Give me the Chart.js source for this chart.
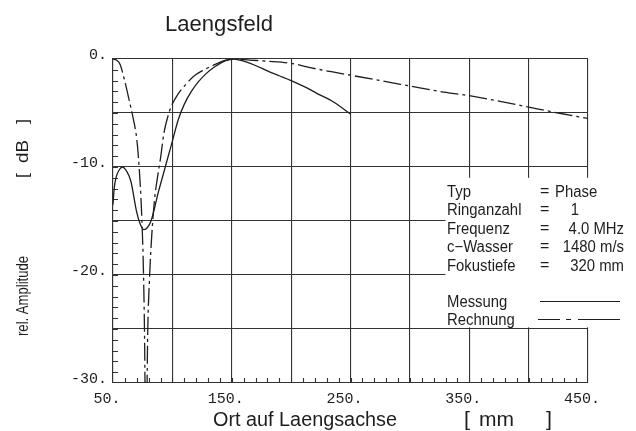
<!DOCTYPE html>
<html>
<head>
<meta charset="utf-8">
<title>Laengsfeld</title>
<script src="https://cdn.jsdelivr.net/npm/chart.js@4.4.1/dist/chart.umd.min.js"></script>
<style>
  html, body { margin: 0; padding: 0; background: #fff; }
  #wrap { width: 636px; height: 431px; }
</style>
</head>
<body>
<div id="wrap"><canvas id="feldChart" width="636" height="431"></canvas></div>
<script>
// Messung: Ort auf Laengsachse [mm] / rel. Amplitude [dB]
const ortMessung = [50, 51, 52.5, 55, 58, 61, 65, 70, 73, 76, 79, 82, 85, 88, 91, 94, 97, 100,
  105, 110, 116, 122, 128, 136, 145, 152, 160, 170, 180, 190, 200, 212, 222, 236, 250];
const ampMessung = [-13.5, -12.0, -11.0, -10.3, -10.0, -10.3, -11.3, -14.2, -15.3, -15.8, -15.6, -15.0, -13.8, -12.4, -11.2, -10.0, -8.8, -7.6,
  -5.6, -4.2, -3.0, -2.1, -1.4, -0.7, -0.15, 0, -0.2, -0.6, -1.1, -1.55, -2.0, -2.6, -3.2, -4.0, -5.1];

// Rechnung
const ortRechnung = [50, 53, 56, 60, 64, 67, 70, 72, 74, 75.5, 76.5, 77.8, 79.2, 80.6, 82.6, 85, 87, 90, 93, 96, 99,
  105, 111, 118, 125, 136, 145, 152, 165, 180, 200, 216, 235, 250, 275, 300, 325, 350, 375, 400, 425, 450];
const ampRechnung = [0, -0.1, -0.5, -2.1, -4.0, -5.5, -7.4, -10.0, -14.0, -19.0, -25.0, -38.0, -25.5, -20.7, -16.4, -13.0, -11.3, -9.2, -6.8, -5.4, -4.4,
  -3.2, -2.4, -1.6, -1.1, -0.5, -0.1, 0, -0.1, -0.2, -0.4, -0.8, -1.2, -1.5, -2.0, -2.5, -3.0, -3.4, -3.9, -4.45, -5.0, -5.5];

// Achsen
const xMin = 50, xMax = 450, xStep = 50, xLabelStep = 100, xMinorStep = 10;
const yMin = -30, yMax = 0, yStep = 5, yLabelStep = 10, yMinorStep = 1;

// Parametertabelle
const paramNamen = ['Typ', 'Ringanzahl', 'Frequenz', 'c\u2212Wasser', 'Fokustiefe'];
const paramWerte = ['Phase', '1', '4.0 MHz', '1480 m/s', '320 mm'];
const legendeNamen = ['Messung', 'Rechnung'];

const INK = '#1e1e1e';
const GRID = '#333';
const rechnungDash = [18, 4, 3, 4];

const toPoints = (xs, ys) => xs.map((x, i) => ({ x: x, y: ys[i] }));

// draw text squeezed/stretched to a given width
function fitText(ctx, str, x, y, w, align) {
  const nat = ctx.measureText(str).width;
  ctx.save();
  ctx.translate(x, y);
  ctx.scale(w / nat, 1);
  ctx.textAlign = align || 'left';
  ctx.fillText(str, 0, 0);
  ctx.restore();
}

// draw text with a fixed horizontal squeeze
function narrowText(ctx, str, x, y, align, sx) {
  ctx.save();
  ctx.translate(x, y);
  ctx.scale(sx, 1);
  ctx.textAlign = align || 'left';
  ctx.fillText(str, 0, 0);
  ctx.restore();
}

const plotterDeko = {
  id: 'plotterDeko',
  beforeDatasetsDraw(chart) {
    const { ctx, chartArea: a, scales: { x, y } } = chart;
    ctx.save();
    ctx.strokeStyle = GRID;
    ctx.lineWidth = 1.1;
    ctx.beginPath();
    // small ticks on the left axis and the bottom axis
    for (let v = yMin + yMinorStep; v < yMax; v += yMinorStep) {
      const py = Math.round(y.getPixelForValue(v)) + 0.5;
      ctx.moveTo(a.left, py);
      ctx.lineTo(a.left + 5, py);
    }
    for (let v = xMin + xMinorStep; v < xMax; v += xMinorStep) {
      const px = Math.round(x.getPixelForValue(v)) + 0.5;
      ctx.moveTo(px, a.bottom);
      ctx.lineTo(px, a.bottom - 5);
    }
    ctx.stroke();
    // blank field for the parameter table
    ctx.fillStyle = '#fff';
    const bx = x.getPixelForValue(330);
    const by = y.getPixelForValue(-11.0);
    const bb = y.getPixelForValue(-24.85);
    ctx.fillRect(bx, by, a.right + 4 - bx, bb - by);
    ctx.restore();
  },
  afterDraw(chart) {
    const { ctx } = chart;
    ctx.save();
    ctx.fillStyle = INK;
    ctx.textBaseline = 'alphabetic';

    // title
    ctx.font = '22px "Liberation Sans", sans-serif';
    fitText(ctx, 'Laengsfeld', 165, 31, 108);

    // x axis title
    ctx.font = '20px "Liberation Sans", sans-serif';
    fitText(ctx, 'Ort auf Laengsachse', 213, 426, 184);
    fitText(ctx, '[', 464, 426, 6);
    fitText(ctx, 'mm', 479, 426, 35);
    fitText(ctx, ']', 546, 426, 6);

    // y axis title (vertical)
    ctx.save();
    ctx.translate(28, 0);
    ctx.rotate(-Math.PI / 2);
    ctx.font = '16px "Liberation Sans", sans-serif';
    fitText(ctx, 'rel. Amplitude', -336, 0, 80);
    ctx.font = '17px "Liberation Sans", sans-serif';
    fitText(ctx, '[', -178, 0, 5);
    fitText(ctx, 'dB', -163, 0, 23);
    fitText(ctx, ']', -124, 0, 5);
    ctx.restore();

    // parameter table
    ctx.font = '16px "Liberation Sans", sans-serif';
    const sx = 0.93;
    const rows = [197, 215, 234, 252, 271];
    const valAlign = ['left', 'center', 'right', 'right', 'right'];
    const valX = [555, 575, 624, 624, 624];
    paramNamen.forEach((n, i) => {
      narrowText(ctx, n, 447, rows[i], 'left', sx);
      narrowText(ctx, '=', 540, rows[i] - 1, 'left', 1);
      narrowText(ctx, paramWerte[i], valX[i], rows[i], valAlign[i], sx);
    });

    // legend
    narrowText(ctx, legendeNamen[0], 447, 307, 'left', sx);
    narrowText(ctx, legendeNamen[1], 447, 325, 'left', sx);
    ctx.strokeStyle = INK;
    ctx.lineWidth = 1.2;
    ctx.beginPath();
    ctx.moveTo(540, 301.5);
    ctx.lineTo(620, 301.5);
    ctx.moveTo(538, 319.5);
    ctx.lineTo(560, 319.5);
    ctx.moveTo(566, 319.5);
    ctx.lineTo(571, 319.5);
    ctx.moveTo(578, 319.5);
    ctx.lineTo(620, 319.5);
    ctx.stroke();
    ctx.restore();
  }
};

new Chart(document.getElementById('feldChart').getContext('2d'), {
  type: 'line',
  data: {
    datasets: [{
      label: legendeNamen[0],
      data: toPoints(ortMessung, ampMessung),
      borderColor: INK,
      borderWidth: 1.3,
      pointRadius: 0,
      cubicInterpolationMode: 'monotone',
      fill: false
    }, {
      label: legendeNamen[1],
      data: toPoints(ortRechnung, ampRechnung),
      borderColor: INK,
      borderWidth: 1.3,
      borderDash: rechnungDash,
      pointRadius: 0,
      cubicInterpolationMode: 'monotone',
      fill: false
    }]
  },
  options: {
    responsive: false,
    animation: false,
    events: [],
    layout: { padding: { left: 0, right: 48, top: 59, bottom: 0 } },
    plugins: {
      legend: { display: false },
      tooltip: { enabled: false },
      title: { display: false }
    },
    scales: {
      x: {
        type: 'linear',
        min: xMin,
        max: xMax,
        afterFit: s => { s.height = 48; },
        grid: { color: GRID, lineWidth: 1.1, drawTicks: false },
        border: { color: GRID, width: 1.1 },
        ticks: {
          stepSize: xStep,
          autoSkip: false,
          maxRotation: 0,
          padding: 7,
          labelOffset: -6,
          color: INK,
          font: { family: '"Liberation Mono", monospace', size: 15 },
          callback: v => ((v - xMin) % xLabelStep === 0 ? v + '.' : '')
        }
      },
      y: {
        min: yMin,
        max: yMax,
        afterFit: s => { s.width = 113; },
        grid: { color: GRID, lineWidth: 1.1, drawTicks: false },
        border: { color: GRID, width: 1.1 },
        ticks: {
          stepSize: yStep,
          autoSkip: false,
          padding: 6,
          labelOffset: -4,
          color: INK,
          font: { family: '"Liberation Mono", monospace', size: 15 },
          callback: v => (v % yLabelStep === 0 ? v + '.' : '')
        }
      }
    }
  },
  plugins: [plotterDeko]
});
</script>
</body>
</html>
